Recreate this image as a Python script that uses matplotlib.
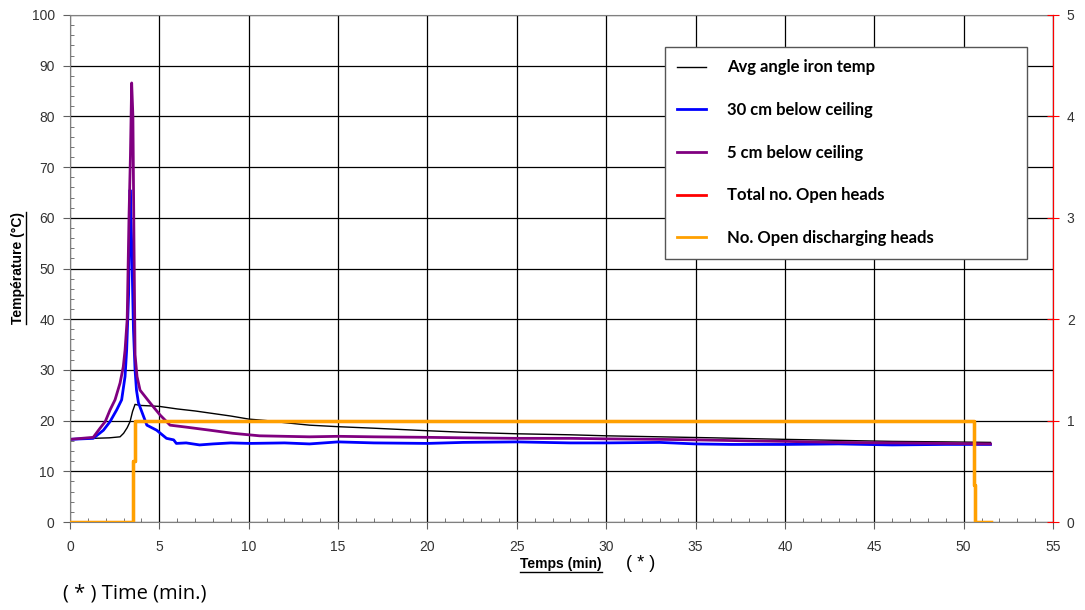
import matplotlib
matplotlib.use("Agg")
import matplotlib.pyplot as plt
from matplotlib.lines import Line2D
from matplotlib.ticker import MultipleLocator

# data (time in min, temperature in degC, heads count)
t_black = [0, 1.3, 2.2, 2.8, 3.0, 3.2, 3.36, 3.5, 3.64, 3.9, 4.5, 5.0, 6, 7, 8, 9, 10,
           11, 12, 13.4, 15, 17, 20, 22, 25, 28, 30, 33, 36, 40, 43, 46, 49, 51.5]
v_black = [16.3, 16.5, 16.6, 16.8, 17.5, 18.6, 19.8, 21.8, 23.2, 23.0, 22.9, 22.8, 22.3, 21.9,
           21.4, 20.9, 20.3, 20.0, 19.6, 19.1, 18.8, 18.5, 18.0, 17.7, 17.4, 17.2, 17.0, 16.8,
           16.6, 16.3, 16.1, 15.9, 15.8, 15.7]

t_blue = [0, 1.3, 1.87, 2.24, 2.61, 2.89, 3.08, 3.17, 3.28, 3.36, 3.45, 3.55, 3.64, 3.72, 3.83,
          4.3, 4.85, 5.4, 5.8, 5.95, 6.5, 7.25, 8, 9, 10.07, 12, 13.4, 15, 17, 20, 22, 25,
          28, 30, 33, 35, 37, 40, 43, 46, 49, 51.5]
v_blue = [16.3, 16.5, 18.1, 19.8, 22.1, 24.1, 28.7, 33.9, 45.0, 65.5, 55.0, 38.0, 30.0, 26.0,
          23.5, 19.1, 18.1, 16.5, 16.2, 15.5, 15.6, 15.2, 15.4, 15.6, 15.5, 15.6, 15.4, 15.8,
          15.6, 15.5, 15.7, 15.8, 15.6, 15.6, 15.7, 15.4, 15.3, 15.3, 15.4, 15.2, 15.3, 15.3]

t_purple = [0, 1.3, 1.68, 1.97, 2.24, 2.52, 2.8, 2.98, 3.08, 3.2, 3.3, 3.38, 3.45, 3.52, 3.58,
            3.64, 3.75, 3.92, 4.48, 5.04, 5.6, 6.53, 7.84, 9.1, 10.6, 13.4, 15, 17, 20, 22,
            25, 28, 30, 33, 35, 38, 40, 43, 46, 49, 51.5]
v_purple = [16.3, 16.7, 18.5, 19.8, 22.1, 24.1, 27.4, 30.6, 33.9, 40.0, 60.0, 72.0, 86.6, 80.0,
            55.0, 33.0, 28.7, 26.0, 23.5, 21.1, 19.1, 18.7, 18.1, 17.5, 17.0, 16.8, 16.9, 16.8,
            16.7, 16.6, 16.5, 16.5, 16.4, 16.3, 16.2, 16.0, 15.9, 15.7, 15.6, 15.5, 15.4]

t_heads = [0, 3.5, 3.5, 3.62, 3.62, 50.59, 50.59, 50.66, 50.66, 51.52]
v_total_heads = [0, 0, 0.6, 0.6, 1, 1, 0.36, 0.36, 0, 0]
v_discharging = [0, 0, 0.6, 0.6, 1, 1, 0.36, 0.36, 0, 0]

labels = ["Avg angle iron temp", "30 cm below ceiling", "5 cm below ceiling",
          "Total no. Open heads", "No. Open discharging heads"]

plt.rcParams['font.family'] = ['Liberation Sans', 'DejaVu Sans']

fig = plt.figure(figsize=(10.85, 6.10), dpi=100)
ax = fig.add_axes([70 / 1085, 1 - 522 / 610, 983 / 1085, 507 / 610])
ax2 = ax.twinx()

ax.plot(t_black, v_black, color='black', lw=1.0)
ax.plot(t_blue, v_blue, color='#0000ff', lw=2.0)
ax.plot(t_purple, v_purple, color='#800080', lw=2.0)
ax2.plot(t_heads, v_total_heads, color='#ff0000', lw=2.2)
ax2.plot(t_heads, v_discharging, color='#ffa000', lw=2.5)

ax.set_xlim(0, 55)
ax.set_ylim(0, 100)
ax2.set_ylim(0, 5)
ax.xaxis.set_major_locator(MultipleLocator(5))
ax.xaxis.set_minor_locator(MultipleLocator(1))
ax.yaxis.set_major_locator(MultipleLocator(10))
ax.yaxis.set_minor_locator(MultipleLocator(2))
ax2.yaxis.set_major_locator(MultipleLocator(1))
ax.grid(True, which='major', color='black', lw=0.9)

for s in ['left', 'bottom', 'top']:
    ax.spines[s].set_color('#808080')
ax2.spines['right'].set_color('#ff0000')
for s in ['left', 'bottom', 'top']:
    ax2.spines[s].set_visible(False)

ax.tick_params(which='major', direction='out', length=5, color='#606060',
               labelsize=10, labelcolor='#333333', pad=6)
ax.tick_params(which='minor', direction='in', length=3, color='#606060')
ax.tick_params(axis='x', pad=8)
ax2.tick_params(which='major', direction='inout', length=8, color='#ff0000',
                labelsize=10, labelcolor='#333333', pad=6)

handles = [Line2D([], [], color='black', lw=1.0),
           Line2D([], [], color='#0000ff', lw=2.0),
           Line2D([], [], color='#800080', lw=2.0),
           Line2D([], [], color='#ff0000', lw=2.0),
           Line2D([], [], color='#ffa000', lw=2.0)]
leg = ax2.legend(handles, labels, loc='upper left', bbox_to_anchor=(0.605, 0.937, 0.3685, 0.0),
                 mode='expand', fancybox=False, framealpha=1, edgecolor='#555555',
                 prop={'family': 'Lato', 'weight': 'bold', 'size': 12},
                 handlelength=1.7, handletextpad=1.3, labelspacing=1.6, borderpad=0.75,
                 borderaxespad=0)
leg.get_frame().set_linewidth(1.0)

ylab = fig.text(18 / 1085, 1 - 268 / 610, "Température (°C)", rotation=90, ha='center',
                va='center', fontsize=10, fontweight='bold')
xlab = fig.text(561 / 1085, 1 - 564 / 610, "Temps (min)", ha='center', va='center',
                fontsize=10, fontweight='bold')
fig.text(641 / 1085, 1 - 563 / 610, "( * )", ha='center', va='center', fontsize=13)
fig.text(63 / 1085, 1 - 593 / 610, "( * ) Time (min.)", ha='left', va='center',
         fontsize=14.5, family='Open Sans')

# underline the axis titles
fig.canvas.draw()
r = fig.canvas.get_renderer()
bb = xlab.get_window_extent(r)
fig.add_artist(Line2D([bb.x0, bb.x1], [bb.y0 - 1, bb.y0 - 1], color='black', lw=1,
                      transform=None))
bb = ylab.get_window_extent(r)
fig.add_artist(Line2D([bb.x1 + 1, bb.x1 + 1], [bb.y0, bb.y1], color='black', lw=1,
                      transform=None))

fig.savefig("out.png", dpi=100)
